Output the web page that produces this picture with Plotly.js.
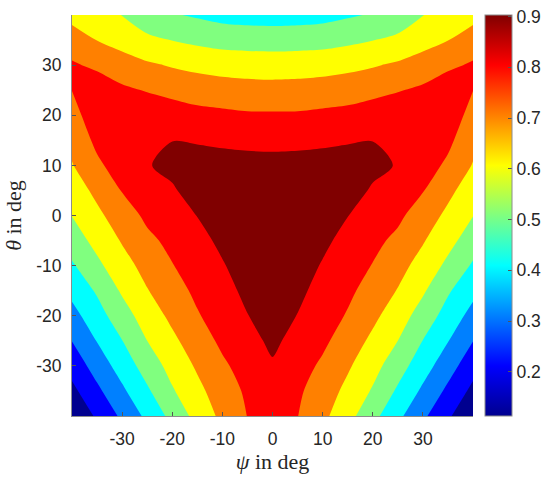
<!DOCTYPE html>
<html>
<head>
<meta charset="utf-8">
<script src="https://cdn.plot.ly/plotly-3.0.1.min.js"></script>
<style>
  body { margin: 0; background: #fff; }
  #plot-contour { width: 550px; height: 479px; }
</style>
</head>
<body>
<div id="plot-contour"></div>
<script>
var psi = [-40, -35, -30, -25, -20, -15, -10, -5, 0, 5, 10, 15, 20, 25, 30, 35, 40];
var theta = [-40, -35, -30, -25, -20, -15, -10, -5, 0, 5, 10, 15, 20, 25, 30, 35, 40];

// one row per theta value, one column per psi value
var z = [
  [0.113,0.215,0.319,0.423,0.530,0.634,0.724,0.802,0.840,0.802,0.724,0.634,0.530,0.423,0.319,0.215,0.113],
  [0.175,0.279,0.382,0.485,0.590,0.675,0.751,0.816,0.865,0.816,0.751,0.675,0.590,0.485,0.382,0.279,0.175],
  [0.238,0.342,0.443,0.543,0.635,0.713,0.784,0.839,0.890,0.839,0.784,0.713,0.635,0.543,0.443,0.342,0.238],
  [0.302,0.404,0.498,0.600,0.679,0.754,0.819,0.870,0.918,0.870,0.819,0.754,0.679,0.600,0.498,0.404,0.302],
  [0.366,0.460,0.557,0.647,0.723,0.792,0.846,0.898,0.930,0.898,0.846,0.792,0.723,0.647,0.557,0.460,0.366],
  [0.427,0.512,0.613,0.695,0.761,0.820,0.870,0.920,0.940,0.920,0.870,0.820,0.761,0.695,0.613,0.512,0.427],
  [0.487,0.578,0.662,0.734,0.796,0.845,0.893,0.941,0.950,0.941,0.893,0.845,0.796,0.734,0.662,0.578,0.487],
  [0.550,0.631,0.708,0.778,0.825,0.872,0.919,0.955,0.960,0.955,0.919,0.872,0.825,0.778,0.708,0.631,0.550],
  [0.602,0.679,0.751,0.820,0.858,0.902,0.946,0.960,0.960,0.960,0.946,0.902,0.858,0.820,0.751,0.679,0.602],
  [0.648,0.724,0.805,0.848,0.891,0.934,0.945,0.950,0.950,0.950,0.945,0.934,0.891,0.848,0.805,0.724,0.648],
  [0.694,0.782,0.845,0.895,0.920,0.955,0.943,0.936,0.933,0.936,0.943,0.955,0.920,0.895,0.845,0.782,0.694],
  [0.730,0.822,0.865,0.885,0.899,0.889,0.880,0.874,0.872,0.874,0.880,0.889,0.899,0.885,0.865,0.822,0.730],
  [0.766,0.856,0.860,0.869,0.850,0.828,0.820,0.812,0.811,0.812,0.820,0.828,0.850,0.869,0.860,0.856,0.766],
  [0.801,0.863,0.819,0.794,0.772,0.757,0.746,0.738,0.735,0.738,0.746,0.757,0.772,0.794,0.819,0.863,0.801],
  [0.813,0.780,0.740,0.715,0.692,0.674,0.660,0.654,0.651,0.654,0.660,0.674,0.692,0.715,0.740,0.780,0.813],
  [0.742,0.698,0.666,0.615,0.598,0.578,0.563,0.559,0.557,0.559,0.563,0.578,0.598,0.615,0.666,0.698,0.742],
  [0.672,0.640,0.598,0.557,0.508,0.488,0.468,0.459,0.455,0.459,0.468,0.488,0.508,0.557,0.598,0.640,0.672]
];

var axisTicks = [-30, -20, -10, 0, 10, 20, 30];
var axisTickText = ['-30', '-20', '-10', '0', '10', '20', '30'];
var cbarTicks = [0.2, 0.3, 0.4, 0.5, 0.6, 0.7, 0.8, 0.9];
var cbarTickText = ['0.2', '0.3', '0.4', '0.5', '0.6', '0.7', '0.8', '0.9'];
var cbarMin = 0.113;
var cbarMax = 0.903;

// matlab jet
var jet = [
  [0, 'rgb(0,0,143)'],
  [0.125, 'rgb(0,0,255)'],
  [0.375, 'rgb(0,255,255)'],
  [0.625, 'rgb(255,255,0)'],
  [0.875, 'rgb(255,0,0)'],
  [1, 'rgb(128,0,0)']
];

var tickFont = {family: 'Liberation Sans, Arial, sans-serif', size: 17.5, color: '#262626'};
var titleFont = {family: 'Liberation Serif, DejaVu Serif, serif', size: 22, color: '#262626'};

// continuous colour bar, hidden under the filled contours
var bar = {
  type: 'heatmap',
  x: psi,
  y: theta,
  z: z,
  zmin: cbarMin,
  zmax: cbarMax,
  colorscale: jet,
  hoverinfo: 'skip',
  colorbar: {
    x: 1.03, xanchor: 'left', xpad: 0,
    y: 0.5, yanchor: 'middle', ypad: 0,
    len: 1, thickness: 27,
    outlinecolor: '#8c8c8c', outlinewidth: 1,
    ticks: 'inside', ticklen: 4, tickcolor: '#555',
    tickvals: cbarTicks, ticktext: cbarTickText,
    tickfont: tickFont
  }
};

var fill = {
  type: 'contour',
  x: psi,
  y: theta,
  z: z,
  colorscale: jet,
  showscale: false,
  contours: {start: 0.2, end: 0.9, size: 0.1, coloring: 'fill', showlines: false},
  line: {width: 0, smoothing: 0.85},
  hoverinfo: 'skip'
};

var layout = {
  width: 550,
  height: 479,
  margin: {l: 72, r: 77, t: 15, b: 63, autoexpand: false},
  paper_bgcolor: '#fff',
  plot_bgcolor: '#fff',
  showlegend: false,
  xaxis: {
    range: [-40, 40],
    tickvals: axisTicks, ticktext: axisTickText,
    ticks: 'inside', ticklen: 4, tickcolor: '#555',
    showline: true, linecolor: '#8c8c8c', linewidth: 1,
    showgrid: false, zeroline: false,
    tickfont: tickFont, ticklabelstandoff: 7,
    title: {text: '<i>ψ</i> in deg', font: titleFont, standoff: 4}
  },
  yaxis: {
    range: [-40, 40],
    tickvals: axisTicks, ticktext: axisTickText,
    ticks: 'inside', ticklen: 4, tickcolor: '#555',
    showline: true, linecolor: '#8c8c8c', linewidth: 1,
    showgrid: false, zeroline: false,
    tickfont: tickFont, ticklabelstandoff: 6,
    title: {text: '<i>θ</i> in deg', font: titleFont, standoff: 8}
  }
};

Plotly.newPlot('plot-contour', [bar, fill], layout, {staticPlot: true});
</script>
</body>
</html>
